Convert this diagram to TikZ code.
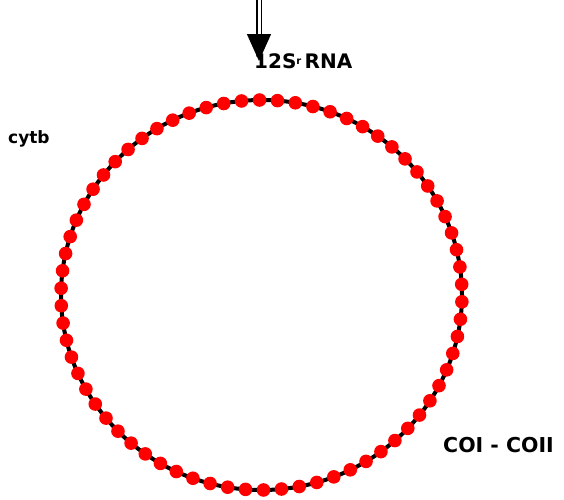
\documentclass[tikz,border=0pt]{standalone}
\usepackage{fontspec}
\setmainfont{DejaVu Sans}
\usetikzlibrary{arrows.meta}
\begin{document}
\begin{tikzpicture}[x=1pt,y=-1pt,
  lbl/.style={font=\bfseries, inner sep=0pt, anchor=base west},
  bead/.style={fill=red, draw=none}]
\useasboundingbox (0,0) rectangle (564,499);
\coordinate (c) at (261.5,295);
\draw[line width=4pt] (c) ellipse [x radius=200.5, y radius=195];
\foreach \i in {0,...,69}{
  \pgfmathsetmacro{\ang}{\i*5.142857+2}
  \fill[bead] ({261.5+200.5*cos(\ang)},{295+195*sin(\ang)}) circle (6.8);
}
\coordinate (atop) at (259,0);
\coordinate (atip) at (259,61);
\draw[double, double distance=3pt, line width=1.4pt, -{Triangle[width=24pt,length=27pt]}, shorten >=0pt] (atop) -- (atip);
\node[lbl, font=\bfseries\fontsize{20}{21}\selectfont] (rna) at (254,68) {12S\raisebox{4pt}{\fontsize{10}{10}\selectfont r}\,RNA};
\node[lbl, font=\bfseries\fontsize{17}{18}\selectfont] (cytb) at (8,143) {cytb};
\node[lbl, font=\bfseries\fontsize{20.5}{21}\selectfont] (coi) at (443,452) {COI - COII};
\end{tikzpicture}
\end{document}
